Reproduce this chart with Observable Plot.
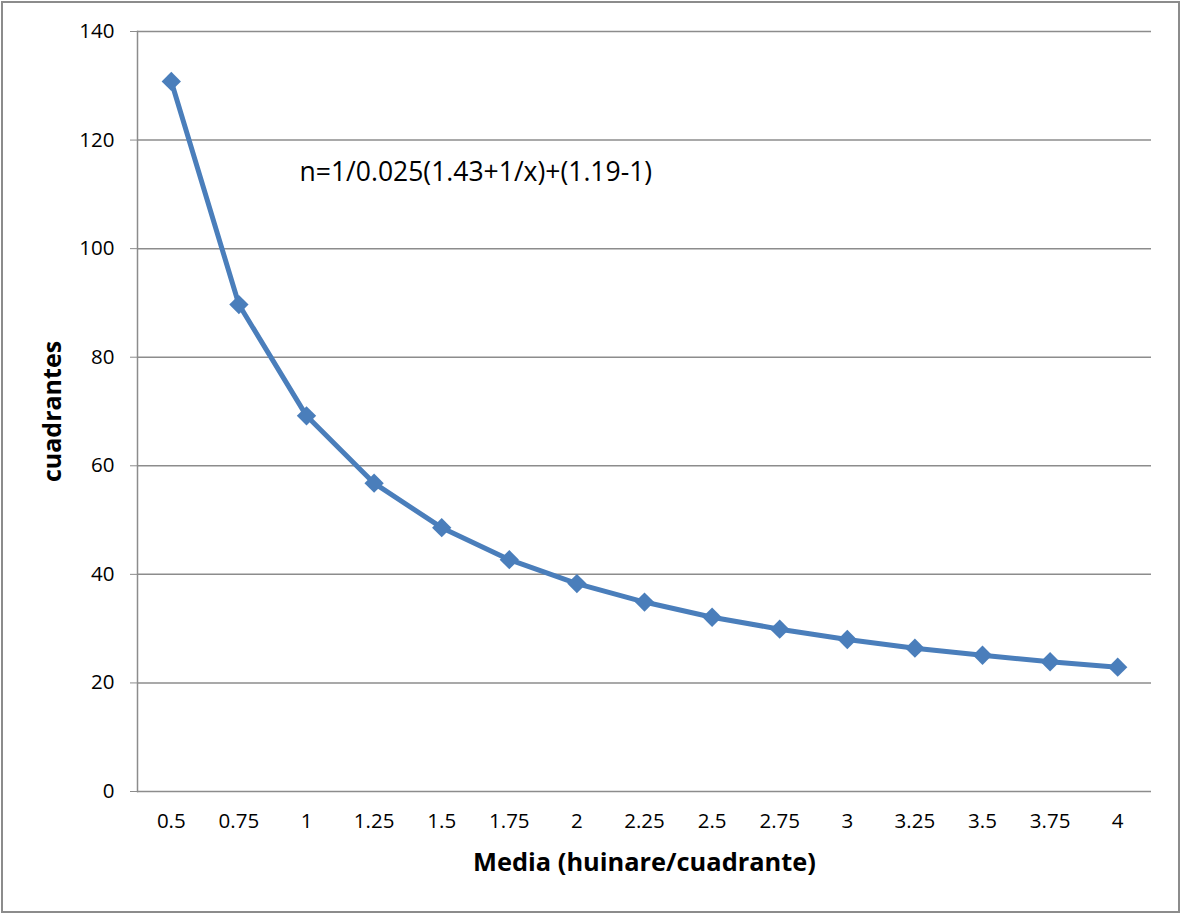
<!DOCTYPE html>
<html>
<head>
<meta charset="utf-8">
<script src="https://cdn.jsdelivr.net/npm/d3@7"></script>
<script src="https://cdn.jsdelivr.net/npm/@observablehq/plot@0.6"></script>
<style>
  html, body { margin: 0; padding: 0; background: #fff; }
  #wrap { position: relative; width: 1180px; height: 913px; }
  #border { position: absolute; left: 1px; top: 1px; width: 1175px; height: 908px; border: 2px solid #8c8c8c; box-sizing: content-box; pointer-events: none; }
  svg { font-family: "Open Sans", sans-serif; }
</style>
</head>
<body>
<div id="wrap"><div id="border"></div></div>
<script>
const categories = ["0.5","0.75","1","1.25","1.5","1.75","2","2.25","2.5","2.75","3","3.25","3.5","3.75","4"];
const values = [130.8, 89.7, 69.2, 56.8, 48.6, 42.7, 38.3, 34.9, 32.1, 29.9, 28.0, 26.4, 25.1, 23.9, 22.9];
const yTicks = [0, 20, 40, 60, 80, 100, 120, 140];
const annotation = "n=1/0.025(1.43+1/x)+(1.19-1)";
const xTitle = "Media (huinare/cuadrante)";
const yTitle = "cuadrantes";

const data = categories.map((c, i) => ({x: c, y: values[i]}));
const color = "#4a7ebb";

const chart = Plot.plot({
  width: 1180,
  height: 913,
  marginLeft: 137,
  marginRight: 29,
  marginTop: 31,
  marginBottom: 122,
  style: {fontFamily: "'Open Sans', sans-serif", fontSize: "20.5px", background: "transparent"},
  x: {type: "point", domain: categories, padding: 0.5, round: false},
  y: {domain: [0, 140]},
  marks: [
    Plot.ruleY(yTicks, {stroke: "#8c8c8c", strokeWidth: 1.5}),
    Plot.frame({anchor: "left", stroke: "#8c8c8c", strokeWidth: 1.5}),
    Plot.axisY({ticks: yTicks, tickSize: 7, tickPadding: 16, fontSize: 20.5, stroke: "#8c8c8c", color: "#000", label: null}),
    Plot.axisX({tickSize: 0, tickPadding: 22, fontSize: 20.5, color: "#000", label: null}),
    Plot.line(data, {x: "x", y: "y", stroke: color, strokeWidth: 5}),
    Plot.dot(data, {x: "x", y: "y", symbol: "diamond2", r: 8.7, fill: color, stroke: "none"}),
    Plot.text([annotation], {x: () => "1", y: () => 114, textAnchor: "start", lineAnchor: "middle", dx: -7, fontSize: 26.5, fill: "#000"}),
    Plot.text([xTitle], {frameAnchor: "bottom", textAnchor: "middle", lineAnchor: "middle", dy: 71, fontSize: 25.4, fontWeight: "bold", fill: "#000"}),
    Plot.text([yTitle], {frameAnchor: "left", textAnchor: "middle", lineAnchor: "middle", dx: -85, rotate: -90, fontSize: 25, fontWeight: "bold", fill: "#000"})
  ]
});
document.getElementById("wrap").prepend(chart);
</script>
</body>
</html>
